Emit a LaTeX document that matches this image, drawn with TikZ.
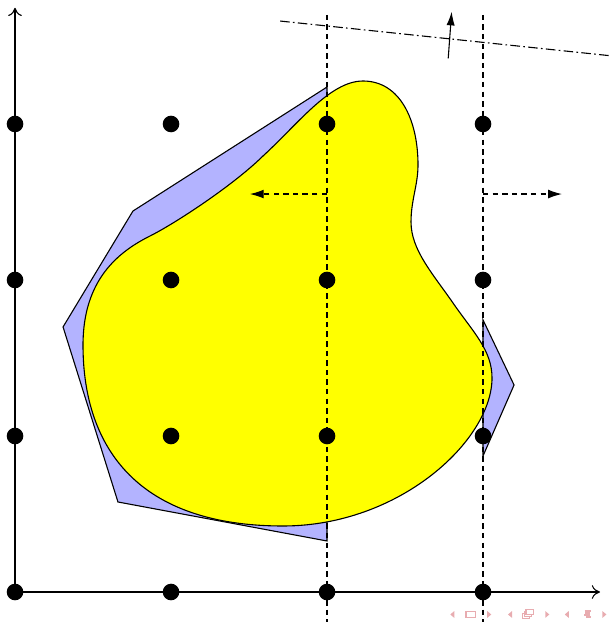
\documentclass[tikz,border=0pt]{standalone}
\usetikzlibrary{
  arrows.meta, % For arrow tips
  calc
}

\definecolor{hullblue}{RGB}{179,179,255}
\definecolor{bodyyellow}{RGB}{255,255,0}
\definecolor{navpink}{RGB}{232,172,176}

\begin{document}
\begin{tikzpicture}[
      x=2cm, y=2cm, % one grid step
      >={To[length=3pt,width=5pt]}, % Default arrow tip
      dot/.style={circle, fill=black, inner sep=0pt, minimum size=0.213cm}, % Style for grid points
      gridline/.style={dash pattern=on 2pt off 1.5pt}, % Style for cut lines
      sweep/.style={dash pattern=on 2pt off 1.5pt, -{Latex[length=5pt,width=3.2pt]}}, % Style for moving arrows
      hull/.style={fill=hullblue, draw=black}, % Style for hull pieces
      body/.style={fill=bodyyellow, draw=black}, % Style for the body
    ]

    \useasboundingbox (-0.0962,-0.2051) rectangle (3.8205,3.7949);

    % Koordinaten von Punkte
    \coordinate (O) at (0,0);
    \coordinate (X) at (3.75,0);
    \coordinate (Y) at (0,3.745);
    \coordinate (S1) at (2,3.70);
    \coordinate (S2) at (2,-0.19);
    \coordinate (T1) at (3,3.70);
    \coordinate (T2) at (3,-0.19);
    \coordinate (L1) at (1.699,3.660);
    \coordinate (L2) at (3.821,3.437);
    \coordinate (N1) at (2.777,3.421);
    \coordinate (N2) at (2.799,3.720);
    \coordinate (ML) at (2,2.551);
    \coordinate (MLe) at (1.506,2.551);
    \coordinate (MR) at (3,2.551);
    \coordinate (MRe) at (3.506,2.551);

    % Hülle (links und rechts vom Streifen)
    \draw[hull] (2,3.237) -- (0.756,2.442) -- (0.308,1.699) -- (0.660,0.577) -- (2,0.327) -- cycle;
    \draw[hull] (3,1.744) -- (3.199,1.327) -- (3,0.872) -- cycle;

    % Körper
    \draw[body] (2.2308,3.2756)
      .. controls (2.4679,3.2756) and (2.5833,3.0256) .. (2.5833,2.7372)
      .. controls (2.5833,2.6090) and (2.5385,2.5128) .. (2.5385,2.3718)
      .. controls (2.5385,2.1923) and (2.6795,2.0385) .. (2.8077,1.8526)
      .. controls (2.9359,1.6667) and (3.0577,1.5513) .. (3.0577,1.3718)
      .. controls (3.0577,0.9744) and (2.4679,0.4231) .. (1.7179,0.4231)
      .. controls (0.8013,0.4231) and (0.4359,0.9103) .. (0.4359,1.5833)
      .. controls (0.4359,2.0000) and (0.6603,2.1795) .. (0.8654,2.2821)
      .. controls (1.0256,2.3622) and (1.3974,2.6058) .. (1.5897,2.7949)
      .. controls (1.8141,3.0000) and (2.0192,3.2756) .. cycle;

    % Achsen
    \draw[->] (O) -- (X);
    \draw[->] (O) -- (Y);

    % Schnittlinien
    \draw[gridline] (S1) -- (S2);
    \draw[gridline] (T1) -- (T2);
    \draw[dash pattern=on 3.5pt off 1.2pt on 0.6pt off 1.2pt] (L1) -- (L2);
    \draw[-{Latex[length=5pt,width=3pt]}] (N1) -- (N2);

    % Verschiebungen
    \draw[sweep] (ML) -- (MLe);
    \draw[sweep] (MR) -- (MRe);

    % Gitterpunkte
    \foreach \i in {0,...,3}
    \foreach \j in {0,...,3}
    \node[dot] (p\i\j) at (\i,\j) {};

    % Navigation
    \foreach \x in {2.803,3.173,3.537}
    \fill[navpink] (\x-0.013,-0.144) -- ++(0.026,0.022) -- ++(0,-0.044) -- cycle;
    \foreach \x in {3.040,3.412,3.778}
    \fill[navpink] (\x+0.013,-0.144) -- ++(-0.026,0.022) -- ++(0,-0.044) -- cycle;
    \draw[navpink, line width=0.6pt] (2.890,-0.164) rectangle (2.952,-0.124);
    \foreach \d in {0,0.012,0.024}
    \draw[navpink, line width=0.5pt, fill=white] (3.252+\d,-0.170+\d) rectangle (3.298+\d,-0.136+\d);
    \foreach \y/\a/\b in {-0.120/3.652/3.690, -0.134/3.656/3.684, -0.148/3.648/3.686, -0.162/3.660/3.690}
    \draw[navpink, line width=0.6pt] (\a,\y) -- (\b,\y);
  \end{tikzpicture}
\end{document}
